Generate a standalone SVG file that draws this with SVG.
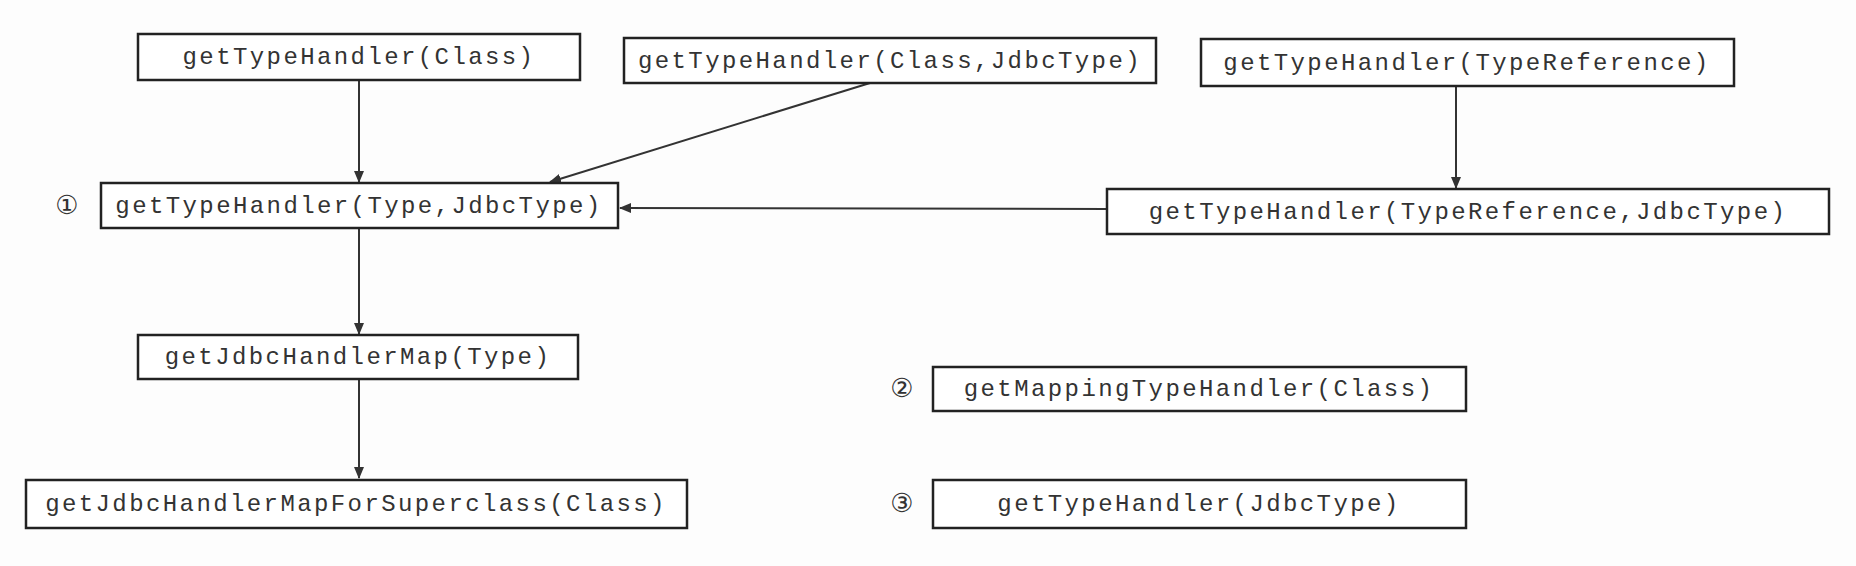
<svg xmlns="http://www.w3.org/2000/svg" width="1856" height="566" viewBox="0 0 1856 566">
<style>
rect{fill:#fff;stroke:#222;stroke-width:2.5}
text{font-family:"Liberation Mono","DejaVu Sans Mono",monospace;font-size:24px;fill:#333;letter-spacing:2.4px;text-anchor:middle;dominant-baseline:central}
.n{font-family:"DejaVu Sans",sans-serif;font-size:26px;letter-spacing:0}
line{stroke:#333;stroke-width:2;marker-end:url(#a)}
</style>
<defs><marker id="a" markerWidth="12" markerHeight="10" refX="11" refY="5" orient="auto" markerUnits="userSpaceOnUse"><path d="M0,0L12,5L0,10z" fill="#333"/></marker></defs>
<rect width="1856" height="566" fill="#fdfdfd" stroke="none" style="fill:#fdfdfd;stroke:none"/>
<g id="connectors">
<line x1="359" y1="80" x2="359" y2="182"/>
<line x1="870" y1="83" x2="550" y2="182"/>
<line x1="1456" y1="86" x2="1456" y2="188"/>
<line x1="1107" y1="209" x2="620" y2="208"/>
<line x1="359" y1="228" x2="359" y2="334"/>
<line x1="359" y1="379" x2="359" y2="478"/>
</g>
<g id="n1"><rect x="138" y="34" width="442" height="46"/><text x="359" y="57">getTypeHandler(Class)</text></g>
<g id="n2"><rect x="624" y="38" width="532" height="45"/><text x="890" y="61">getTypeHandler(Class,JdbcType)</text></g>
<g id="n3"><rect x="1201" y="39" width="533" height="47"/><text x="1467" y="63">getTypeHandler(TypeReference)</text></g>
<g id="n4"><text class="n" x="67" y="205">①</text><rect x="101" y="183" width="517" height="45"/><text x="359" y="206">getTypeHandler(Type,JdbcType)</text></g>
<g id="n5"><rect x="1107" y="189" width="722" height="45"/><text x="1468" y="212">getTypeHandler(TypeReference,JdbcType)</text></g>
<g id="n6"><rect x="138" y="335" width="440" height="44"/><text x="358" y="357">getJdbcHandlerMap(Type)</text></g>
<g id="n7"><rect x="26" y="480" width="661" height="48"/><text x="356" y="504">getJdbcHandlerMapForSuperclass(Class)</text></g>
<g id="n8"><text class="n" x="902" y="388">②</text><rect x="933" y="367" width="533" height="44"/><text x="1199" y="389">getMappingTypeHandler(Class)</text></g>
<g id="n9"><text class="n" x="902" y="503">③</text><rect x="933" y="480" width="533" height="48"/><text x="1199" y="504">getTypeHandler(JdbcType)</text></g>
</svg>
